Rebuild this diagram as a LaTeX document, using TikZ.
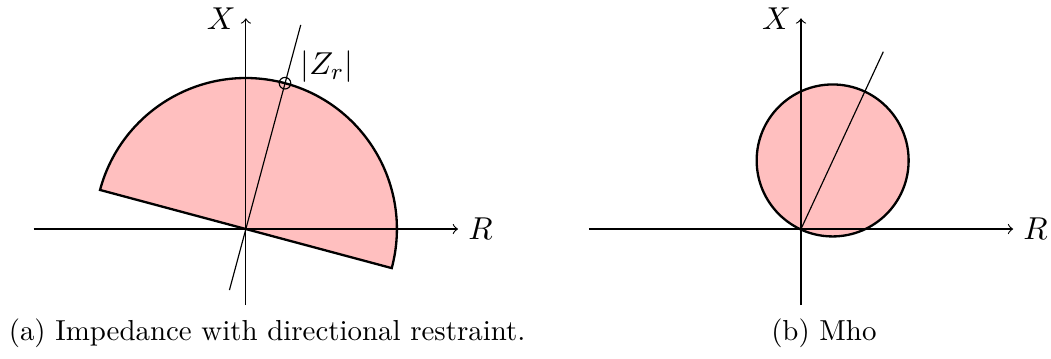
\documentclass[tikz,border=0pt]{standalone}
\usetikzlibrary{positioning}
\begin{document}
\begin{tikzpicture}[
  zone/.style={thick, fill=red!25},
  axis/.style={->},
  lbl/.style={font=\fontsize{10.95}{13.6}\selectfont}
]
\useasboundingbox (-2.99, -1.57) rectangle (9.79, 2.785);

% Impedance with directional restraint
\filldraw[zone] (0, 0) -- (165:1.836) arc[start angle=165, end angle=-15, radius=1.836] -- cycle;
\coordinate (r1) at (2.58, 0);
\coordinate (x1) at (0, 2.562);
\draw[axis] (-2.58, 0) -- (r1);
\draw[axis] (0, -0.924) -- (x1);
\node[lbl, right=0pt of r1] (rlabel1) {$R$};
\node[lbl, left=0pt of x1] (xlabel1) {$X$};
\draw (-0.2, -0.742) -- (0.667, 2.482);
\node[circle, draw, inner sep=0pt, minimum size=4pt] (zr) at (75:1.836) {};
\node[lbl, above right=-3.2pt and 1.9pt of zr.center] (zrlabel) {$|Z_r|$};
\node[anchor=base] (capa) at (0.258, -1.35) {(a) Impedance with directional restraint.};

% Mho
\filldraw[zone] (7.135, 0.834) circle (0.924);
\coordinate (r2) at (9.33, 0);
\coordinate (x2) at (6.75, 2.562);
\draw[axis] (4.17, 0) -- (r2);
\draw[axis] (6.75, -0.924) -- (x2);
\node[lbl, right=0pt of r2] (rlabel2) {$R$};
\node[lbl, left=0pt of x2] (xlabel2) {$X$};
\draw (6.75, 0) -- (7.751, 2.156);
\node[anchor=base] (capb) at (7.028, -1.35) {(b) Mho};

\end{tikzpicture}
\end{document}
